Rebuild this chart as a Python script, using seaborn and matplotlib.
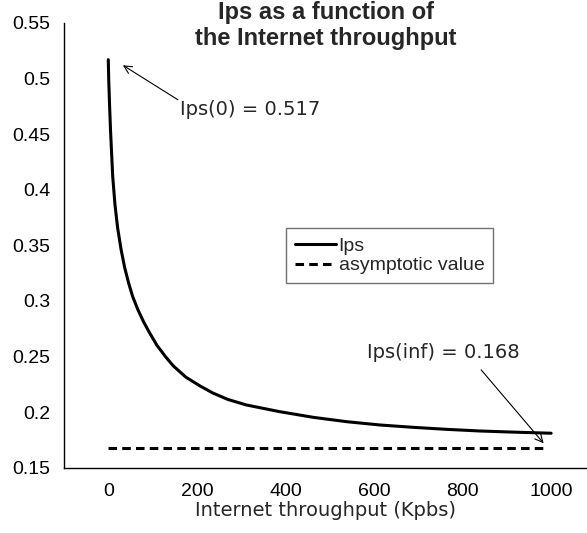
import matplotlib
matplotlib.use('Agg')
import matplotlib.pyplot as plt
import seaborn as sns
import pandas as pd

# values
throughput = [0, 1, 3, 5, 10, 15, 21, 29, 37, 46, 55, 67, 80, 93, 110, 131, 147,
              175, 206, 236, 270, 312, 387, 463, 538, 614, 689, 764, 840, 915, 1000]
ips = [0.517, 0.499, 0.475, 0.454, 0.412, 0.387, 0.366, 0.346, 0.330, 0.316,
       0.304, 0.292, 0.281, 0.2715, 0.260, 0.249, 0.2415, 0.2315, 0.2238, 0.2172,
       0.2114, 0.2064, 0.2004, 0.1953, 0.1914, 0.1884, 0.1863, 0.1845, 0.183,
       0.182, 0.181]
asym_x = [0, 985]
asym_y = [0.168, 0.168]

x_ticks = list(range(0, 1001, 100))
x_labels = ['0', '', '200', '', '400', '', '600', '', '800', '', '1000']
y_ticks = [0.15, 0.2, 0.25, 0.3, 0.35, 0.4, 0.45, 0.5, 0.55]
y_labels = ['0.15', '0.2', '0.25', '0.3', '0.35', '0.4', '0.45', '0.5', '0.55']

sns.set_style('white')
plt.rcParams['font.family'] = ['Liberation Sans', 'DejaVu Sans']

df = pd.DataFrame({'throughput': throughput, 'ips': ips})
asym_df = pd.DataFrame({'throughput': asym_x, 'ips': asym_y})

fig = plt.figure(figsize=(5.87, 5.33), dpi=100)
ax = fig.add_axes([64 / 587, 1 - 467.7 / 533, 1 - 64 / 587, (467.7 - 23) / 533])

sns.lineplot(data=df, x='throughput', y='ips', ax=ax, color='black',
             linewidth=2.2, label='Ips', legend=False)
sns.lineplot(data=asym_df, x='throughput', y='ips', ax=ax, color='black',
             linewidth=2.2, linestyle=(0, (2.8, 1.7)), label='asymptotic value',
             legend=False)

ax.set_xlim(-100, 1081)
ax.set_ylim(0.15, 0.55)
ax.set_xticks(x_ticks)
ax.set_xticklabels(x_labels)
ax.set_yticks(y_ticks)
ax.set_yticklabels(y_labels)
ax.tick_params(direction='in', length=4, width=1, labelsize=14, colors='black')
ax.tick_params(axis='x', pad=11)
ax.tick_params(axis='y', pad=10)
for side in ['top', 'right']:
    ax.spines[side].set_visible(False)
for side in ['left', 'bottom']:
    ax.spines[side].set_color('black')
    ax.spines[side].set_linewidth(1)

ax.set_ylabel('')
ax.set_xlabel('Internet throughput (Kpbs)', fontsize=14, family='DejaVu Sans',
              labelpad=1)

fig.text(325.5 / 587, 1 - 1 / 533, 'Ips as a function of\nthe Internet throughput',
         ha='center', va='top', fontsize=17, fontweight='bold', linespacing=1.15)

# annotations
ax.text(161, 0.472, 'Ips(0) = 0.517', fontsize=14, family='DejaVu Sans',
        va='center', ha='left')
ax.annotate('', xy=(33, 0.512), xytext=(157, 0.481),
            arrowprops=dict(arrowstyle='->', color='black', lw=0.8,
                            mutation_scale=14, shrinkA=0, shrinkB=0))
ax.text(585, 0.254, 'Ips(inf) = 0.168', fontsize=14, family='DejaVu Sans',
        va='center', ha='left')
ax.annotate('', xy=(983, 0.172), xytext=(842, 0.238),
            arrowprops=dict(arrowstyle='->', color='black', lw=0.8,
                            mutation_scale=14, shrinkA=0, shrinkB=0))

leg = ax.legend(loc='upper left', bbox_to_anchor=(0.4245, 0.538), borderaxespad=0,
                fontsize=14, frameon=True, fancybox=False, handlelength=2.1,
                handletextpad=0.15, labelspacing=0.1, borderpad=0.45)
leg.get_frame().set_edgecolor('0.3')
leg.get_frame().set_linewidth(1)

fig.savefig('out.png', dpi=100)
